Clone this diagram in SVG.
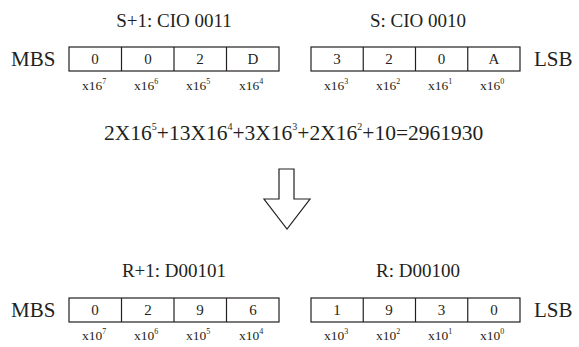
<svg xmlns="http://www.w3.org/2000/svg" width="579" height="347" viewBox="0 0 579 347">
<style>
text{font-family:"Liberation Serif","Times New Roman",serif;fill:#231f20}
.t{font-size:19px;text-anchor:middle}
.side{font-size:21px}
.d{font-size:15px;text-anchor:middle}
.p{font-size:13.5px;text-anchor:middle}
.sup{font-size:8px}
.fs{font-size:10px}
.f{font-size:21.5px}
.box{fill:#fff;stroke:#231f20;stroke-width:1.2}
.ln{stroke:#231f20;stroke-width:1.2}
</style>
<rect width="579" height="347" fill="#fff"/>
<g id="top-hi">
<text class="t" x="174" y="27">S+1: CIO 0011</text>
<text class="side" x="11" y="66">MBS</text>
<rect class="box" x="69" y="47" width="210" height="24"/>
<line class="ln" x1="121.5" y1="47" x2="121.5" y2="71"/>
<line class="ln" x1="174" y1="47" x2="174" y2="71"/>
<line class="ln" x1="226.5" y1="47" x2="226.5" y2="71"/>
<text class="d" x="95" y="64">0</text>
<text class="d" x="148" y="64">0</text>
<text class="d" x="200" y="64">2</text>
<text class="d" x="253" y="64">D</text>
<text class="p" x="94" y="90">x16<tspan class="sup" dy="-6">7</tspan></text>
<text class="p" x="146" y="90">x16<tspan class="sup" dy="-6">6</tspan></text>
<text class="p" x="198" y="90">x16<tspan class="sup" dy="-6">5</tspan></text>
<text class="p" x="251" y="90">x16<tspan class="sup" dy="-6">4</tspan></text>
</g>
<g id="top-lo">
<text class="t" x="418" y="27">S: CIO 0010</text>
<rect class="box" x="311" y="47" width="209" height="24"/>
<line class="ln" x1="363.25" y1="47" x2="363.25" y2="71"/>
<line class="ln" x1="415.5" y1="47" x2="415.5" y2="71"/>
<line class="ln" x1="467.75" y1="47" x2="467.75" y2="71"/>
<text class="d" x="337" y="64">3</text>
<text class="d" x="389" y="64">2</text>
<text class="d" x="441.5" y="64">0</text>
<text class="d" x="494" y="64">A</text>
<text class="side" x="534" y="66">LSB</text>
<text class="p" x="336" y="90">x16<tspan class="sup" dy="-6">3</tspan></text>
<text class="p" x="388" y="90">x16<tspan class="sup" dy="-6">2</tspan></text>
<text class="p" x="440" y="90">x16<tspan class="sup" dy="-6">1</tspan></text>
<text class="p" x="492" y="90">x16<tspan class="sup" dy="-6">0</tspan></text>
</g>
<g id="formula">
<text class="f" x="104" y="140">2X16<tspan class="fs" dy="-10">5</tspan><tspan dy="10">+13X16</tspan><tspan class="fs" dy="-10">4</tspan><tspan dy="10">+3X16</tspan><tspan class="fs" dy="-10">3</tspan><tspan dy="10">+2X16</tspan><tspan class="fs" dy="-10">2</tspan><tspan dy="10">+10=2961930</tspan></text>
</g>
<g id="connectors">
<path d="M279,169 H294 V199 H310 L287,229 L264,199 H279 Z" fill="#fff" stroke="#231f20" stroke-width="1.2" stroke-linejoin="miter"/>
</g>
<g id="bot-hi">
<text class="t" x="174" y="277">R+1: D00101</text>
<text class="side" x="11" y="317">MBS</text>
<rect class="box" x="69" y="298" width="210" height="24"/>
<line class="ln" x1="121.5" y1="298" x2="121.5" y2="322"/>
<line class="ln" x1="174" y1="298" x2="174" y2="322"/>
<line class="ln" x1="226.5" y1="298" x2="226.5" y2="322"/>
<text class="d" x="95" y="315">0</text>
<text class="d" x="148" y="315">2</text>
<text class="d" x="200" y="315">9</text>
<text class="d" x="253" y="315">6</text>
<text class="p" x="94" y="340">x10<tspan class="sup" dy="-6">7</tspan></text>
<text class="p" x="146" y="340">x10<tspan class="sup" dy="-6">6</tspan></text>
<text class="p" x="198" y="340">x10<tspan class="sup" dy="-6">5</tspan></text>
<text class="p" x="251" y="340">x10<tspan class="sup" dy="-6">4</tspan></text>
</g>
<g id="bot-lo">
<text class="t" x="418" y="277">R: D00100</text>
<rect class="box" x="311" y="298" width="209" height="24"/>
<line class="ln" x1="363.25" y1="298" x2="363.25" y2="322"/>
<line class="ln" x1="415.5" y1="298" x2="415.5" y2="322"/>
<line class="ln" x1="467.75" y1="298" x2="467.75" y2="322"/>
<text class="d" x="337" y="315">1</text>
<text class="d" x="389" y="315">9</text>
<text class="d" x="441.5" y="315">3</text>
<text class="d" x="494" y="315">0</text>
<text class="side" x="534" y="317">LSB</text>
<text class="p" x="336" y="340">x10<tspan class="sup" dy="-6">3</tspan></text>
<text class="p" x="388" y="340">x10<tspan class="sup" dy="-6">2</tspan></text>
<text class="p" x="440" y="340">x10<tspan class="sup" dy="-6">1</tspan></text>
<text class="p" x="492" y="340">x10<tspan class="sup" dy="-6">0</tspan></text>
</g>
</svg>
